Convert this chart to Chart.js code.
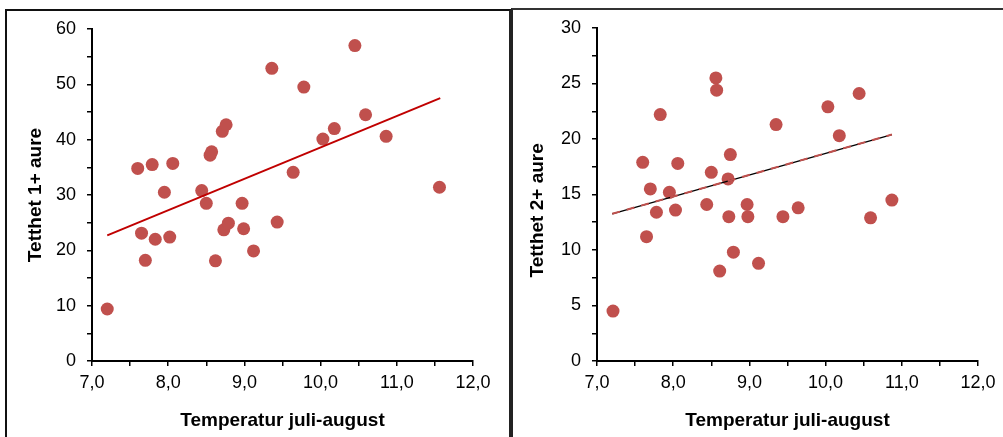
<!DOCTYPE html>
<html>
<head>
<meta charset="utf-8">
<script src="https://cdn.jsdelivr.net/npm/chart.js@4/dist/chart.umd.min.js"></script>
<style>
  body { margin: 0; background: #fff; width: 1003px; height: 437px; overflow: hidden; position: relative; }
  .ramme { position: absolute; box-sizing: border-box; height: 460px; }
  #ramme1 { left: 5px; top: 9px; width: 506px; border-left: 2px solid #111; border-top: 2px solid #111; border-right: 2px solid #222; }
  #ramme2 { left: 511px; top: 8px; width: 500px; border-left: 2px solid #222; border-top: 2px solid #333; }
  canvas { position: absolute; top: 0; }
  #graf1 { left: 0; }
  #graf2 { left: 513px; }
</style>
</head>
<body>
<div class="ramme" id="ramme1"></div>
<div class="ramme" id="ramme2"></div>
<canvas id="graf1" width="509" height="437"></canvas>
<canvas id="graf2" width="490" height="437"></canvas>
<script>
// Tetthet 1+ aure mot temperatur
let temp1 = [7.20, 7.60, 7.65, 7.70, 7.79, 7.83, 7.95, 8.02, 8.06, 8.44, 8.50, 8.55, 8.57, 8.62, 8.71, 8.76,
             8.73, 8.79, 8.97, 8.99, 9.12, 9.36, 9.43, 9.64, 9.78, 10.03, 10.18, 10.45, 10.59, 10.86, 11.56];
let tetthet1 = [9.4, 34.8, 23.1, 18.2, 35.5, 22.0, 30.5, 22.4, 35.7, 30.8, 28.5, 37.2, 37.8, 18.1, 41.5, 42.7,
                23.7, 24.9, 28.5, 23.9, 19.9, 52.9, 25.1, 34.1, 49.5, 40.1, 42.0, 57.0, 44.5, 40.6, 31.4];
let trend1X = [7.20, 11.57];
let trend1Y = [22.7, 47.5];

// Tetthet 2+ aure mot temperatur
let temp2 = [7.21, 7.60, 7.65, 7.70, 7.78, 7.83, 7.95, 8.03, 8.06, 8.44, 8.50, 8.56, 8.57, 8.61, 8.72,
             8.73, 8.75, 8.79, 8.97, 8.98, 9.12, 9.35, 9.44, 9.64, 10.03, 10.18, 10.44, 10.59, 10.87];
let tetthet2 = [4.5, 17.9, 11.2, 15.5, 13.4, 22.2, 15.2, 13.6, 17.8, 14.1, 17.0, 25.5, 24.4, 8.1, 16.4,
                13.0, 18.6, 9.8, 14.1, 13.0, 8.8, 21.3, 13.0, 13.8, 22.9, 20.3, 24.1, 12.9, 14.5];
let trend2X = [7.20, 10.87];
let trend2Y = [13.26, 20.4];

let xTitle = "Temperatur juli-august";
let yTitle1 = "Tetthet 1+ aure";
let yTitle2 = "Tetthet 2+ aure      ";

Chart.defaults.font.family = "'Liberation Sans', Arial, sans-serif";
Chart.defaults.color = "#000";

function punkter(xs, ys) {
    return xs.map(function (x, i) { return { x: x, y: ys[i] }; });
}

function lagGraf(id, opts) {
    let datasets = [];
    if (opts.dashed) {
        // svart linje med stiplet rød linje oppå
        datasets.push({
            type: "line", data: punkter(opts.tx, opts.ty), borderColor: "#C0504D",
            borderWidth: 2, borderDash: [8, 7], pointRadius: 0, fill: false, order: 0
        });
        datasets.push({
            type: "line", data: punkter(opts.tx, opts.ty), borderColor: "#000",
            borderWidth: 1.3, pointRadius: 0, fill: false, order: 1
        });
    } else {
        datasets.push({
            type: "line", data: punkter(opts.tx, opts.ty), borderColor: "#C00000",
            borderWidth: 2, pointRadius: 0, fill: false, order: 0
        });
    }
    datasets.push({
        type: "scatter", data: punkter(opts.xs, opts.ys), backgroundColor: "#C0504D",
        borderWidth: 0, pointRadius: 6.5, pointHoverRadius: 6.5, order: 5
    });

    return new Chart(document.getElementById(id).getContext("2d"), {
        type: "scatter",
        data: { datasets: datasets },
        options: {
            responsive: false,
            animation: false,
            layout: { padding: opts.padding },
            plugins: { legend: { display: false }, tooltip: { enabled: false } },
            scales: {
                x: {
                    type: "linear", min: 7, max: 12,
                    border: { color: "#000", width: 2 },
                    grid: { drawOnChartArea: false, drawTicks: true, tickLength: 5, color: "#000", lineWidth: 1.5 },
                    ticks: {
                        stepSize: 0.5, autoSkip: false, maxRotation: 0, padding: 6,
                        font: { size: 18 },
                        callback: function (v) { return Number.isInteger(v) ? v.toFixed(1).replace(".", ",") : ""; }
                    },
                    title: { display: true, text: xTitle, font: { size: 19, weight: "bold" }, padding: { top: 0, bottom: 5 } },
                    afterFit: function (s) { s.height = 76; }
                },
                y: {
                    type: "linear", min: 0, max: opts.yMax,
                    border: { color: "#000", width: 2 },
                    grid: { drawOnChartArea: false, drawTicks: true, tickLength: 5, color: "#000", lineWidth: 1.5 },
                    ticks: {
                        stepSize: opts.yStep, autoSkip: false, padding: 11,
                        font: { size: 18 },
                        callback: function (v) { return v % opts.yLabelStep === 0 ? String(v) : ""; }
                    },
                    title: { display: true, text: opts.yTitle, font: { size: 19, weight: "bold" }, padding: { top: 4, bottom: 0 } },
                    afterFit: function (s) { s.width = opts.yWidth; }
                }
            }
        }
    });
}

lagGraf("graf1", {
    xs: temp1, ys: tetthet1, tx: trend1X, ty: trend1Y, dashed: false,
    yMax: 60, yStep: 5, yLabelStep: 10, yTitle: yTitle1, yWidth: 72,
    padding: { left: 20, right: 36, top: 29, bottom: 0 }
});

lagGraf("graf2", {
    xs: temp2, ys: tetthet2, tx: trend2X, ty: trend2Y, dashed: true,
    yMax: 30, yStep: 2.5, yLabelStep: 5, yTitle: yTitle2, yWidth: 75,
    padding: { left: 9, right: 25, top: 28, bottom: 0 }
});
</script>
</body>
</html>
